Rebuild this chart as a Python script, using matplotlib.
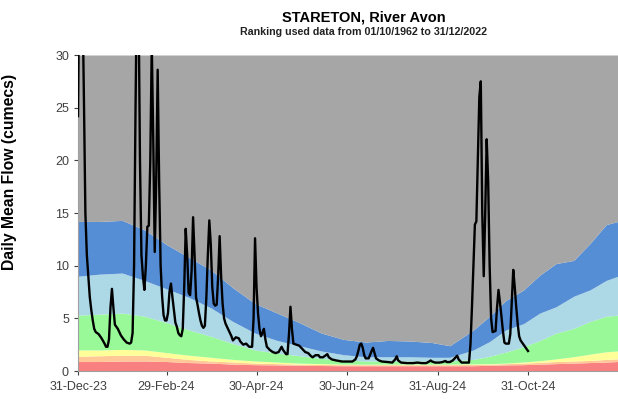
import matplotlib
matplotlib.use("Agg")
import matplotlib.pyplot as plt
import matplotlib.dates as mdates
import numpy as np
import datetime as dt

plt.rcParams['font.family'] = ['Liberation Sans', 'DejaVu Sans']

start_date = dt.date(2023, 12, 31)

# Ranking band boundaries (cumecs) by day offset from 31-Dec-23
band_days = [0, 15, 30, 45, 60, 75, 90, 105, 120, 135, 150, 165, 180, 195, 210,
             225, 240, 252, 268, 279, 290, 302, 313, 324, 336, 347, 358, 366]
red_top = [0.9, 0.9, 0.95, 0.95, 0.9, 0.8, 0.75, 0.65, 0.6, 0.58, 0.55, 0.52, 0.5, 0.5, 0.5,
           0.5, 0.5, 0.5, 0.5, 0.55, 0.58, 0.6, 0.65, 0.7, 0.75, 0.8, 0.85, 0.9]
orange_top = [1.4, 1.45, 1.5, 1.5, 1.3, 1.1, 0.95, 0.85, 0.75, 0.7, 0.65, 0.62, 0.6, 0.6, 0.6,
              0.6, 0.6, 0.6, 0.62, 0.65, 0.7, 0.75, 0.82, 0.9, 0.95, 1.0, 1.1, 1.15]
yellow_top = [2.0, 2.0, 2.05, 2.0, 1.75, 1.5, 1.3, 1.1, 0.95, 0.85, 0.75, 0.7, 0.65, 0.65, 0.65,
              0.65, 0.65, 0.65, 0.68, 0.7, 0.75, 0.85, 0.98, 1.15, 1.36, 1.6, 1.83, 1.9]
green_top = [5.3, 5.4, 5.5, 5.2, 4.6, 3.9, 3.3, 2.6, 2.0, 1.7, 1.45, 1.2, 1.05, 0.95, 0.95,
             0.95, 0.95, 0.95, 1.1, 1.4, 1.8, 2.3, 2.9, 3.6, 4.05, 4.7, 5.2, 5.3]
lightblue_top = [9.0, 9.2, 9.3, 8.6, 7.8, 7.0, 6.0, 4.7, 3.6, 2.9, 2.4, 1.9, 1.55, 1.35, 1.35,
                 1.35, 1.3, 1.3, 2.0, 2.8, 3.9, 4.5, 5.5, 6.1, 7.1, 7.7, 8.6, 9.0]
blue_top = [14.2, 14.2, 14.3, 13.4, 12.0, 10.8, 9.6, 7.9, 6.4, 5.5, 4.6, 3.6, 3.0, 2.75, 2.9,
            2.85, 2.7, 2.4, 3.9, 5.2, 6.7, 7.7, 9.1, 10.2, 10.5, 12.1, 13.9, 14.2]

# Daily mean flow (cumecs) by day offset from 31-Dec-23
flow_day = [0, 1, 2, 3, 4, 5, 6, 7, 8, 9, 10, 11, 12, 14, 16, 18, 19, 20, 21, 22, 23, 24, 25, 27,
            29, 31, 33, 35, 36, 37, 38, 39, 40, 41, 42, 43, 44, 45, 46, 47, 48, 49, 50, 51, 52,
            53, 54, 55, 56, 57, 58, 59, 60, 61, 62, 63, 64, 65, 66, 67, 68, 69, 70, 71, 72, 73,
            74, 75, 76, 77, 78, 79, 80, 81, 82, 83, 84, 85, 86, 87, 88, 89, 90, 91, 92, 93, 94,
            95, 96, 97, 98, 99, 100, 101, 102, 104, 105, 107, 109, 110, 112, 114, 116, 118, 119,
            120, 121, 122, 123, 124, 125, 126, 127, 128, 130, 132, 134, 136, 138, 139, 141, 142,
            143, 144, 145, 146, 148, 150, 152, 154, 156, 158, 159, 161, 163, 164, 166, 169, 170,
            172, 175, 179, 183, 186, 188, 189, 190, 191, 192, 193, 194, 195, 197, 199, 200, 201,
            202, 204, 206, 210, 213, 215, 216, 217, 219, 223, 227, 230, 233, 236, 238, 239, 240,
            242, 245, 247, 249, 250, 252, 254, 256, 257, 258, 260, 263, 265, 266, 267, 268, 269,
            270, 271, 272, 273, 274, 275, 276, 277, 278, 279, 280, 281, 283, 284, 285, 286, 287,
            288, 289, 290, 292, 293, 294, 295, 296, 297, 298, 299, 300, 302, 304, 305]
flow_val = [24.2, 40, 42, 36, 26, 15, 11, 9.0, 7.0, 5.8, 4.8, 4.0, 3.7, 3.5, 3.1, 2.6, 2.3, 2.3,
            3.0, 6.0, 7.8, 6.0, 4.4, 4.0, 3.4, 3.0, 2.7, 2.6, 2.7, 3.6, 10, 25, 38, 36, 20, 11,
            9.0, 7.7, 10, 13.7, 13.8, 20, 31, 22, 11.3, 18, 28.6, 18, 10, 7.1, 5.3, 4.8, 4.8, 5.5,
            7.5, 8.3, 7.0, 5.8, 4.6, 4.2, 3.6, 3.4, 3.3, 4.0, 8.0, 13.5, 11, 7.4, 7.2, 9.5, 14.6,
            11, 7.0, 6.3, 5.5, 4.8, 4.3, 4.1, 4.3, 7, 11, 14.3, 12, 8, 6.4, 6.2, 6.3, 9, 12.8, 9,
            6.4, 5.0, 4.5, 4.2, 3.9, 3.3, 2.9, 3.2, 3.1, 2.8, 2.5, 2.6, 2.3, 2.3, 5, 12.6, 8, 5.5,
            4.0, 3.3, 3.6, 4.0, 3.0, 2.3, 2.0, 1.8, 1.7, 1.8, 2.3, 2.0, 1.6, 1.6, 3.5, 6.1, 4.0,
            2.6, 2.5, 2.4, 2.1, 1.8, 1.7, 1.4, 1.3, 1.5, 1.5, 1.3, 1.3, 1.6, 1.3, 1.1, 1.0, 0.9,
            0.9, 0.9, 1.1, 1.4, 1.9, 2.5, 2.6, 2.2, 1.5, 1.2, 1.2, 1.9, 2.2, 1.7, 1.2, 1.0, 0.9,
            0.85, 0.8, 1.1, 1.4, 1.0, 0.8, 0.75, 0.75, 0.8, 0.75, 0.75, 0.9, 1.0, 0.9, 0.8, 0.8,
            0.85, 0.95, 0.85, 0.85, 1.0, 1.3, 1.45, 1.1, 0.8, 0.8, 0.8, 2.5, 6, 9.9, 13.9, 14.2,
            20, 26, 27.5, 15, 9.0, 15, 22, 18, 10, 5, 3.7, 3.8, 6, 7.7, 6.5, 5.2, 3.8, 2.7, 2.6,
            2.6, 3.5, 6.5, 9.6, 8.0, 6.1, 4.5, 3.3, 2.9, 2.5, 2.1, 1.9]

tick_dates = ["2023-12-31", "2024-02-29", "2024-04-30", "2024-06-30", "2024-08-31", "2024-10-31"]

band_colors = ["#F98080", "#FFC896", "#FFFF99", "#99F999", "#ADD8E6", "#558ED5", "#A6A6A6"]

def to_dates(days):
    return [start_date + dt.timedelta(days=d) for d in days]

bd = to_dates(band_days)
fd = to_dates(flow_day)

fig = plt.figure(figsize=(6.18, 3.99), dpi=100)
ax = fig.add_axes([78/618, 1-371/399, 1-78/618, (371-55)/399])

ymax = 30
bounds = [np.zeros(len(band_days)), red_top, orange_top, yellow_top, green_top,
          lightblue_top, blue_top, np.full(len(band_days), ymax)]
for i, c in enumerate(band_colors):
    ax.fill_between(bd, bounds[i], bounds[i+1], color=c, linewidth=0)

ax.plot(fd, flow_val, color='black', linewidth=1.7, zorder=5)

ax.set_ylim(0, ymax)
ax.set_xlim(start_date, dt.date(2024, 12, 31))
ax.set_yticks(range(0, 31, 5))
ax.set_xticks([dt.date.fromisoformat(s) for s in tick_dates])
ax.xaxis.set_major_formatter(mdates.DateFormatter('%d-%b-%y'))
ax.tick_params(axis='both', labelsize=9, colors='#404040', direction='out', length=3)
ax.tick_params(axis='x', pad=4)
for s in ['top', 'right']:
    ax.spines[s].set_visible(False)
for s in ['left', 'bottom']:
    ax.spines[s].set_color('#A0A0A0')
ax.set_ylabel('Daily Mean Flow (cumecs)', fontsize=11.3, fontweight='bold')
ax.yaxis.set_label_coords(-0.113, 0.63)

fig.text(364/618, 1-17/399, 'STARETON, River Avon', ha='center', va='center',
         fontsize=10.5, fontweight='bold')
fig.text(364/618, 1-32/399, 'Ranking used data from 01/10/1962 to 31/12/2022', ha='center',
         va='center', fontsize=7.7, fontweight='bold', color='#222222')

fig.savefig('out.png', dpi=100)
